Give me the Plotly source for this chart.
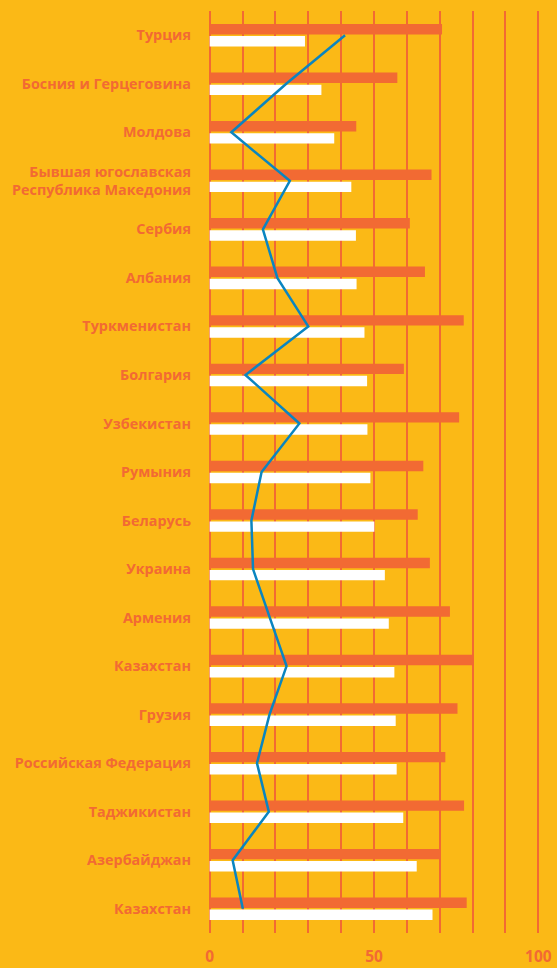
import plotly.graph_objects as go

categories = [
    "Турция",
    "Босния и Герцеговина",
    "Молдова",
    "Бывшая югославская<br>Республика Македония",
    "Сербия",
    "Албания",
    "Туркменистан",
    "Болгария",
    "Узбекистан",
    "Румыния",
    "Беларусь",
    "Украина",
    "Армения",
    "Казахстан",
    "Грузия",
    "Российская Федерация",
    "Таджикистан",
    "Азербайджан",
    "Казахстан",
]

orange_values = [70.7, 57.1, 44.6, 67.5, 60.9, 65.5, 77.3, 59.1, 75.9, 65.0,
                 63.3, 67.0, 73.1, 80.0, 75.4, 71.7, 77.4, 70.3, 78.2]
white_values = [29.0, 34.0, 37.9, 43.1, 44.5, 44.7, 47.1, 47.9, 48.0, 48.9,
                50.1, 53.3, 54.5, 56.2, 56.6, 56.9, 58.9, 63.0, 67.8]
line_values = [41.2, 23.3, 6.6, 24.4, 16.2, 20.6, 30.0, 10.9, 27.3, 15.8,
               12.7, 13.2, 18.3, 23.4, 18.2, 14.4, 18.0, 7.0, 10.1]

x_tickvals = [0, 10, 20, 30, 40, 50, 60, 70, 80, 90, 100]
x_ticktext = ["0", "", "", "", "", "50", "", "", "", "", "100"]

BG = "#FBB916"
ORANGE = "#F26A33"
BLUE = "#0A85C0"

n = len(categories)
y_pos = list(range(n))

fig = go.Figure()
fig.add_trace(go.Bar(
    y=y_pos, x=orange_values, orientation="h",
    marker=dict(color=ORANGE, line=dict(width=0)),
    showlegend=False, hovertext=categories, hoverinfo="x+text",
))
fig.add_trace(go.Bar(
    y=y_pos, x=white_values, orientation="h",
    marker=dict(color="#FFFFFF", line=dict(width=0)),
    showlegend=False, hovertext=categories, hoverinfo="x+text",
))
fig.add_trace(go.Scatter(
    y=y_pos, x=line_values, mode="lines",
    line=dict(color=BLUE, width=2.5),
    showlegend=False, hovertext=categories, hoverinfo="x+text",
))

fig.update_layout(
    width=557, height=968,
    paper_bgcolor=BG, plot_bgcolor=BG,
    margin=dict(l=208, r=17, t=11, b=35),
    barmode="group", bargap=0.5, bargroupgap=0.14,
    xaxis=dict(
        range=[-0.5, 100.5],
        tickvals=x_tickvals, ticktext=x_ticktext,
        showgrid=True, gridcolor=ORANGE, gridwidth=2,
        zeroline=False, showline=False, ticks="",
        tickfont=dict(family="Open Sans", size=15.5, color=ORANGE, weight="bold"),
        ticklabelstandoff=12,
        automargin=False,
        fixedrange=True,
    ),
    yaxis=dict(
        range=[n - 0.5, -0.5],
        tickvals=y_pos, ticktext=categories,
        showgrid=False, zeroline=False, showline=False, ticks="",
        tickfont=dict(family="Open Sans", size=14.4, color=ORANGE, weight="bold"),
        ticklabelstandoff=16,
        automargin=False,
        fixedrange=True,
    ),
)

fig.write_html(
    "out.html",
    config={"displayModeBar": False},
    post_script="document.body.style.margin='0';document.body.style.padding='0';document.body.style.background='" + BG + "';",
)
